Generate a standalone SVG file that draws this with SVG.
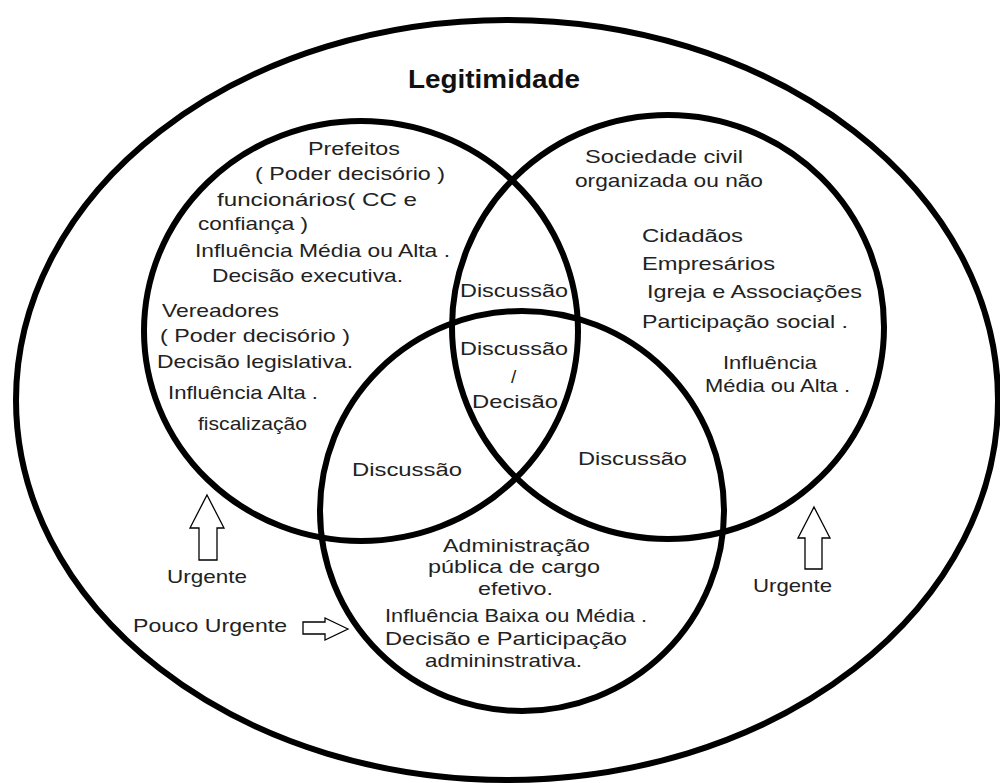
<svg xmlns="http://www.w3.org/2000/svg" width="1000" height="783" viewBox="0 0 1000 783">
<style>
.c{fill:none;stroke:#000;stroke-width:6}
.t{font-family:"Liberation Sans",Arial,sans-serif;font-size:19px;fill:#222}
.b{font-family:"Liberation Sans",Arial,sans-serif;font-size:25px;font-weight:bold;fill:#111}
.a{fill:#fff;stroke:#000;stroke-width:1.3;stroke-linejoin:miter}
</style>
<rect width="1000" height="783" fill="#fff"/>
<g id="legitimidade">
<ellipse class="c" cx="507" cy="400" rx="491" ry="380"/>
<text class="b" x="408" y="88" textLength="172" lengthAdjust="spacingAndGlyphs">Legitimidade</text>
</g>
<g id="poder-publico">
<ellipse class="c" cx="361" cy="331" rx="217" ry="210"/>
<text class="t" x="308" y="155" textLength="92" lengthAdjust="spacingAndGlyphs">Prefeitos</text>
<text class="t" x="255" y="180" textLength="190" lengthAdjust="spacingAndGlyphs">( Poder decisório )</text>
<text class="t" x="217" y="206" textLength="200" lengthAdjust="spacingAndGlyphs">funcionários( CC e</text>
<text class="t" x="198" y="230" textLength="110" lengthAdjust="spacingAndGlyphs">confiança )</text>
<text class="t" x="195" y="257" textLength="255" lengthAdjust="spacingAndGlyphs">Influência Média ou Alta .</text>
<text class="t" x="212" y="282" textLength="191" lengthAdjust="spacingAndGlyphs">Decisão executiva.</text>
<text class="t" x="162" y="317" textLength="117" lengthAdjust="spacingAndGlyphs">Vereadores</text>
<text class="t" x="160" y="342" textLength="190" lengthAdjust="spacingAndGlyphs">( Poder decisório )</text>
<text class="t" x="157" y="368" textLength="196" lengthAdjust="spacingAndGlyphs">Decisão legislativa.</text>
<text class="t" x="168" y="399" textLength="150" lengthAdjust="spacingAndGlyphs">Influência Alta .</text>
<text class="t" x="198" y="430" textLength="109" lengthAdjust="spacingAndGlyphs">fiscalização</text>
</g>
<g id="sociedade-civil">
<ellipse class="c" cx="668" cy="327" rx="216" ry="212"/>
<text class="t" x="585" y="163" textLength="158" lengthAdjust="spacingAndGlyphs">Sociedade civil</text>
<text class="t" x="575" y="187" textLength="188" lengthAdjust="spacingAndGlyphs">organizada ou não</text>
<text class="t" x="642" y="242" textLength="101" lengthAdjust="spacingAndGlyphs">Cidadãos</text>
<text class="t" x="642" y="270" textLength="133" lengthAdjust="spacingAndGlyphs">Empresários</text>
<text class="t" x="647" y="298" textLength="215" lengthAdjust="spacingAndGlyphs">Igreja e Associações</text>
<text class="t" x="642" y="328" textLength="206" lengthAdjust="spacingAndGlyphs">Participação social .</text>
<text class="t" x="723" y="369" textLength="94" lengthAdjust="spacingAndGlyphs">Influência</text>
<text class="t" x="705" y="392" textLength="145" lengthAdjust="spacingAndGlyphs">Média ou Alta .</text>
</g>
<g id="administracao">
<ellipse class="c" cx="522" cy="511" rx="202" ry="200"/>
<text class="t" x="443" y="552" textLength="147" lengthAdjust="spacingAndGlyphs">Administração</text>
<text class="t" x="428" y="573" textLength="172" lengthAdjust="spacingAndGlyphs">pública de cargo</text>
<text class="t" x="478" y="595" textLength="75" lengthAdjust="spacingAndGlyphs">efetivo.</text>
<text class="t" x="385" y="622" textLength="262" lengthAdjust="spacingAndGlyphs">Influência Baixa ou Média .</text>
<text class="t" x="385" y="645" textLength="242" lengthAdjust="spacingAndGlyphs">Decisão e Participação</text>
<text class="t" x="425" y="667" textLength="157" lengthAdjust="spacingAndGlyphs">admininstrativa.</text>
</g>
<g id="intersecoes">
<text class="t" x="460" y="297" textLength="108" lengthAdjust="spacingAndGlyphs">Discussão</text>
<text class="t" x="460" y="355" textLength="108" lengthAdjust="spacingAndGlyphs">Discussão</text>
<text class="t" x="511" y="383">/</text>
<text class="t" x="472" y="408" textLength="86" lengthAdjust="spacingAndGlyphs">Decisão</text>
<text class="t" x="352" y="476" textLength="110" lengthAdjust="spacingAndGlyphs">Discussão</text>
<text class="t" x="578" y="465" textLength="109" lengthAdjust="spacingAndGlyphs">Discussão</text>
</g>
<g id="urgencia-esquerda">
<text class="t" x="167" y="583" textLength="80" lengthAdjust="spacingAndGlyphs">Urgente</text>
<text class="t" x="133" y="632" textLength="154" lengthAdjust="spacingAndGlyphs">Pouco Urgente</text>
</g>
<g id="urgencia-direita">
<text class="t" x="753" y="592" textLength="79" lengthAdjust="spacingAndGlyphs">Urgente</text>
</g>
<g id="connectors">
<polygon class="a" points="207,495 224,528 217,528 217,560 199,560 199,528 190,528"/>
<polygon class="a" points="814,507 830,538 822,538 822,569 805,569 805,538 798,538"/>
<polygon class="a" points="348,629 325,618 325,622 303,622 303,634 325,634 325,640"/>
</g>
</svg>
